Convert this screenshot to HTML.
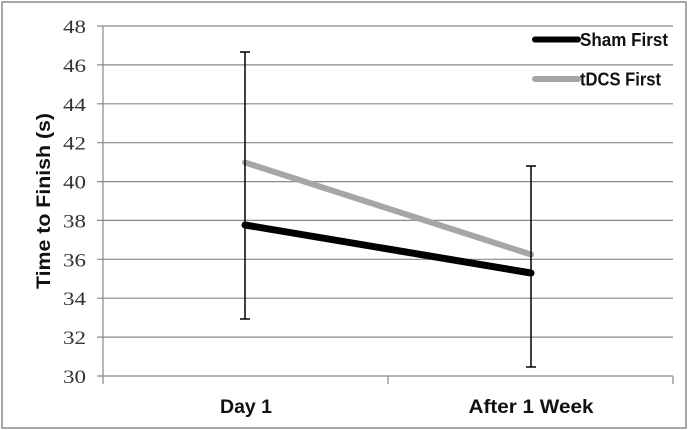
<!DOCTYPE html>
<html><head><meta charset="utf-8"><style>
html,body{margin:0;padding:0;background:#fff;}
svg{display:block;}
</style></head><body>
<svg width="688" height="430" viewBox="0 0 688 430" xmlns="http://www.w3.org/2000/svg">
<rect x="0" y="0" width="688" height="430" fill="#fff"/>
<rect x="2" y="2" width="684" height="426" fill="none" stroke="#8c8c8c" stroke-width="1.5"/>
<g stroke="#878787" stroke-width="1.2">
<line x1="97" y1="26" x2="673" y2="26"/>
<line x1="97" y1="64.9" x2="673" y2="64.9"/>
<line x1="97" y1="103.8" x2="673" y2="103.8"/>
<line x1="97" y1="142.7" x2="673" y2="142.7"/>
<line x1="97" y1="181.6" x2="673" y2="181.6"/>
<line x1="97" y1="220.4" x2="673" y2="220.4"/>
<line x1="97" y1="259.3" x2="673" y2="259.3"/>
<line x1="97" y1="298.2" x2="673" y2="298.2"/>
<line x1="97" y1="337.1" x2="673" y2="337.1"/>
<line x1="97" y1="376" x2="673" y2="376"/>
<line x1="103" y1="26" x2="103" y2="384"/>
<line x1="388" y1="376" x2="388" y2="384"/>
<line x1="673" y1="376" x2="673" y2="384"/>
</g>
<g font-family="Liberation Serif, serif" font-size="19" fill="#333" text-anchor="end">
<text x="86" y="33" textLength="23" lengthAdjust="spacingAndGlyphs">48</text>
<text x="86" y="71.9" textLength="23" lengthAdjust="spacingAndGlyphs">46</text>
<text x="86" y="110.8" textLength="23" lengthAdjust="spacingAndGlyphs">44</text>
<text x="86" y="149.7" textLength="23" lengthAdjust="spacingAndGlyphs">42</text>
<text x="86" y="188.6" textLength="23" lengthAdjust="spacingAndGlyphs">40</text>
<text x="86" y="227.4" textLength="23" lengthAdjust="spacingAndGlyphs">38</text>
<text x="86" y="266.3" textLength="23" lengthAdjust="spacingAndGlyphs">36</text>
<text x="86" y="305.2" textLength="23" lengthAdjust="spacingAndGlyphs">34</text>
<text x="86" y="344.1" textLength="23" lengthAdjust="spacingAndGlyphs">32</text>
<text x="86" y="383" textLength="23" lengthAdjust="spacingAndGlyphs">30</text>
</g>
<text transform="translate(50,201) rotate(-90)" font-family="Liberation Sans, sans-serif" font-weight="bold" font-size="19" fill="#111" text-anchor="middle" textLength="176" lengthAdjust="spacingAndGlyphs">Time to Finish (s)</text>
<g font-family="Liberation Sans, sans-serif" font-weight="bold" font-size="19" fill="#111" text-anchor="middle">
<text x="246" y="413" textLength="52" lengthAdjust="spacingAndGlyphs">Day 1</text>
<text x="531" y="413" textLength="125" lengthAdjust="spacingAndGlyphs">After 1 Week</text>
</g>
<g stroke="#a6a6a6" stroke-width="6" stroke-linecap="round">
<line x1="245" y1="162.5" x2="531" y2="254.5"/>
</g>
<g stroke="#000" stroke-width="7" stroke-linecap="round">
<line x1="245" y1="225" x2="531" y2="273"/>
</g>
<g stroke="#000" stroke-width="1.5">
<line x1="245" y1="52" x2="245" y2="319"/>
<line x1="240" y1="52" x2="250" y2="52"/>
<line x1="240" y1="319" x2="250" y2="319"/>
<line x1="531" y1="166" x2="531" y2="367"/>
<line x1="526" y1="166" x2="536" y2="166"/>
<line x1="526" y1="367" x2="536" y2="367"/>
</g>
<line x1="535" y1="39.5" x2="578" y2="39.5" stroke="#000" stroke-width="6" stroke-linecap="round"/>
<line x1="535" y1="79" x2="578" y2="79" stroke="#a6a6a6" stroke-width="6" stroke-linecap="round"/>
<g font-family="Liberation Sans, sans-serif" font-weight="bold" font-size="18" fill="#111">
<text x="580" y="46" textLength="88" lengthAdjust="spacingAndGlyphs">Sham First</text>
<text x="580" y="85.5" textLength="81" lengthAdjust="spacingAndGlyphs">tDCS First</text>
</g>
</svg>
</body></html>
